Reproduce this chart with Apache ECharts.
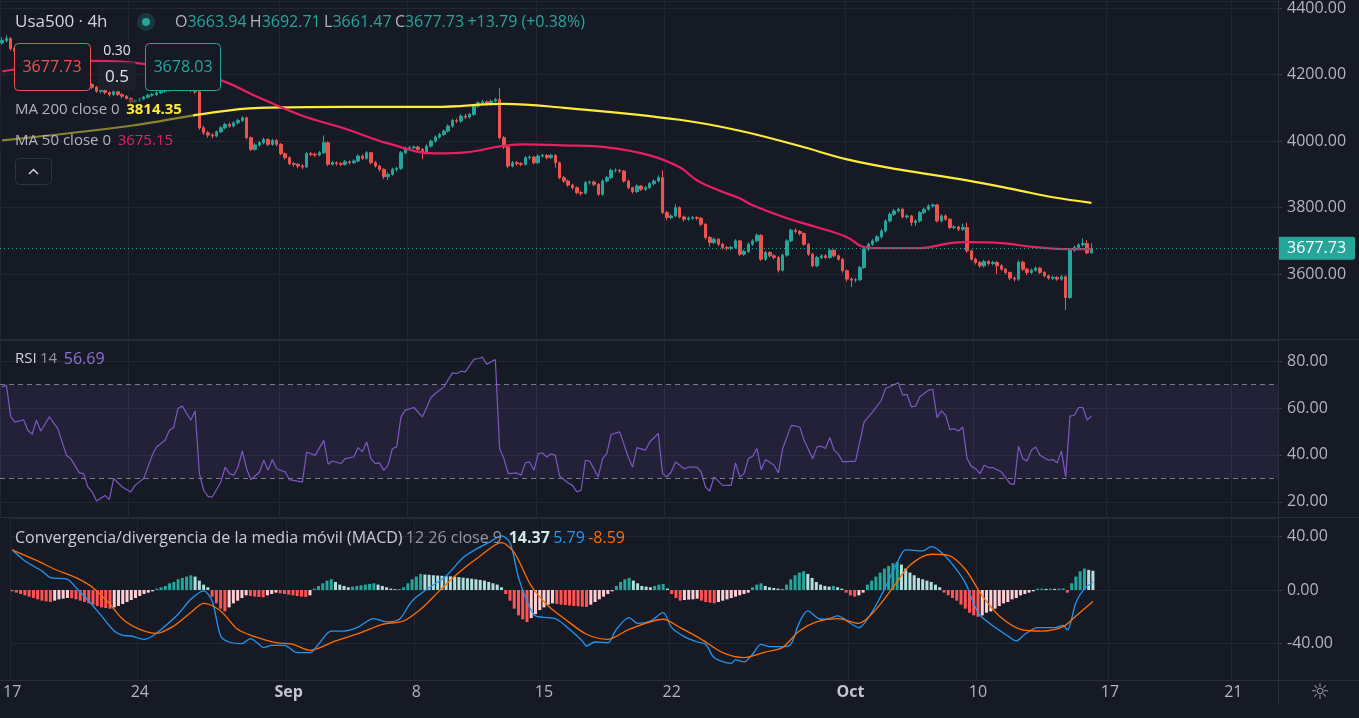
<!DOCTYPE html>
<html><head><meta charset="utf-8">
<script src="https://cdn.jsdelivr.net/npm/echarts@6/dist/echarts.min.js"></script>
<style>html,body{margin:0;padding:0;background:#161a25;overflow:hidden}#c{width:1359px;height:718px}</style>
</head><body><div id="c"></div>
<script>
// ---------- DATA ----------
// candles: [open, close, low, high], one per 4h bar
const candles = [
[4295,4302,4290,4312],[4302,4308,4296,4318],[4308,4278,4272,4312],[4278,4270,4262,4283],[4270,4265,4258,4275],
[4265,4268,4259,4274],[4268,4255,4250,4272],[4255,4250,4243,4260],[4250,4262,4246,4267],[4262,4252,4247,4266],
[4252,4258,4248,4263],[4258,4266,4254,4272],[4266,4258,4253,4270],[4258,4252,4246,4262],[4252,4232,4227,4256],
[4232,4215,4210,4236],[4215,4212,4205,4220],[4212,4198,4192,4216],[4198,4185,4180,4202],[4185,4184,4178,4190],
[4184,4170,4165,4188],[4170,4162,4156,4174],[4162,4150,4145,4166],[4150,4152,4144,4157],[4152,4146,4140,4156],
[4146,4140,4134,4150],[4140,4148,4136,4152],[4148,4140,4135,4151],[4140,4135,4128,4144],[4135,4128,4122,4138],
[4128,4118,4112,4131],[4118,4122,4114,4126],[4122,4125,4117,4130],[4125,4132,4121,4136],[4132,4138,4128,4142],
[4138,4140,4133,4145],[4140,4145,4136,4150],[4145,4150,4141,4155],[4150,4152,4145,4157],[4152,4158,4148,4163],
[4158,4160,4153,4165],[4160,4165,4156,4170],[4165,4168,4160,4173],[4168,4160,4155,4171],[4160,4152,4147,4164],
[4152,4148,4142,4158],[4148,4040,4034,4160],[4040,4025,4018,4046],[4025,4018,4010,4030],[4018,4015,4008,4024],
[4015,4028,4011,4032],[4028,4040,4024,4045],[4040,4050,4035,4055],[4050,4045,4040,4056],[4045,4055,4041,4060],
[4055,4062,4050,4067],[4062,4070,4057,4075],[4070,4010,4005,4073],[4010,3975,3970,4014],[3975,3988,3971,3993],
[3988,3995,3983,4000],[3995,4005,3990,4010],[4005,3990,3985,4008],[3990,4002,3986,4007],[4002,3990,3984,4006],
[3990,3962,3957,3994],[3962,3950,3944,3966],[3950,3932,3927,3954],[3932,3930,3922,3937],[3930,3925,3918,3934],
[3925,3922,3915,3930],[3922,3962,3918,3967],[3962,3960,3954,3967],[3960,3958,3952,3965],[3958,3965,3954,3970],
[3965,3995,3961,4017],[3995,3930,3925,3999],[3930,3935,3926,3940],[3935,3932,3926,3939],[3932,3930,3924,3937],
[3930,3938,3926,3943],[3938,3935,3930,3942],[3935,3940,3931,3945],[3940,3955,3936,3960],[3955,3948,3943,3960],
[3948,3965,3944,3970],[3965,3935,3930,3968],[3935,3925,3920,3940],[3925,3915,3908,3929],[3915,3893,3886,3918],
[3893,3900,3883,3906],[3900,3915,3896,3920],[3915,3918,3908,3923],[3918,3965,3913,3970],[3965,3978,3960,3983],
[3978,3980,3972,3986],[3980,3982,3975,3987],[3982,3975,3968,3986],[3975,3965,3945,3979],[3965,3985,3960,3990],
[3985,4000,3980,4005],[4000,4012,3995,4017],[4012,4020,4007,4025],[4020,4030,4015,4035],[4030,4045,4025,4050],
[4045,4062,4040,4067],[4062,4060,4054,4068],[4060,4075,4055,4080],[4075,4072,4066,4082],[4072,4080,4067,4085],
[4080,4105,4076,4110],[4105,4115,4100,4120],[4115,4118,4110,4124],[4118,4110,4105,4122],[4110,4120,4106,4125],
[4120,4125,4116,4130],[4125,4010,4005,4160],[4010,3982,3976,4015],[3982,3925,3918,3986],[3925,3935,3921,3940],
[3935,3932,3926,3940],[3932,3930,3924,3937],[3930,3950,3926,3955],[3950,3952,3944,3957],[3952,3935,3930,3956],
[3935,3955,3931,3960],[3955,3957,3950,3962],[3957,3950,3945,3961],[3950,3957,3946,3962],[3957,3935,3920,3960],
[3935,3890,3885,3938],[3890,3880,3874,3895],[3880,3868,3862,3884],[3868,3860,3854,3872],[3860,3845,3840,3864],
[3845,3843,3836,3850],[3843,3875,3839,3880],[3875,3877,3869,3882],[3877,3870,3864,3881],[3870,3840,3835,3874],
[3840,3880,3836,3885],[3880,3890,3875,3895],[3890,3912,3886,3917],[3912,3912,3906,3918],[3912,3910,3904,3916],
[3910,3880,3875,3913],[3880,3860,3855,3884],[3860,3848,3842,3863],[3848,3865,3844,3870],[3865,3855,3850,3868],
[3855,3860,3850,3865],[3860,3872,3856,3877],[3872,3880,3867,3885],[3880,3890,3875,3897],[3890,3785,3780,3912],
[3785,3770,3762,3790],[3770,3775,3765,3780],[3775,3800,3771,3810],[3800,3772,3767,3804],[3772,3765,3758,3776],
[3765,3768,3760,3773],[3768,3770,3763,3775],[3770,3768,3762,3774],[3768,3750,3744,3772],[3750,3710,3704,3753],
[3710,3695,3683,3714],[3695,3705,3690,3710],[3705,3690,3684,3708],[3690,3680,3673,3694],[3680,3678,3671,3685],
[3678,3680,3672,3685],[3680,3700,3676,3705],[3700,3660,3655,3703],[3660,3668,3655,3673],[3668,3690,3663,3695],
[3690,3700,3685,3705],[3700,3717,3696,3722],[3717,3645,3640,3720],[3645,3665,3640,3670],[3665,3655,3650,3669],
[3655,3650,3644,3660],[3650,3612,3605,3654],[3612,3657,3608,3662],[3657,3700,3652,3705],[3700,3732,3696,3737],
[3732,3728,3722,3738],[3728,3722,3716,3733],[3722,3690,3685,3725],[3690,3660,3655,3694],[3660,3625,3620,3664],
[3625,3650,3621,3655],[3650,3655,3645,3660],[3655,3650,3645,3660],[3650,3672,3646,3677],[3672,3655,3650,3676],
[3655,3645,3640,3659],[3645,3610,3604,3649],[3610,3585,3578,3614],[3585,3582,3561,3590],[3582,3583,3575,3589],
[3583,3620,3579,3625],[3620,3675,3616,3680],[3675,3690,3670,3695],[3690,3700,3685,3706],[3700,3712,3695,3718],
[3712,3730,3707,3736],[3730,3760,3725,3765],[3760,3780,3755,3786],[3780,3790,3775,3796],[3790,3795,3785,3800],
[3795,3772,3767,3798],[3772,3775,3766,3780],[3775,3755,3745,3778],[3755,3760,3745,3765],[3760,3785,3755,3790],
[3785,3795,3780,3800],[3795,3805,3790,3810],[3805,3808,3800,3813],[3808,3760,3755,3811],[3760,3775,3755,3780],
[3775,3765,3760,3780],[3765,3740,3735,3768],[3740,3742,3734,3747],[3742,3735,3729,3746],[3735,3740,3730,3752],
[3740,3670,3664,3755],[3670,3645,3640,3674],[3645,3635,3629,3650],[3635,3625,3619,3640],[3625,3638,3620,3643],
[3638,3632,3626,3642],[3632,3635,3627,3640],[3635,3625,3600,3640],[3625,3615,3610,3630],[3615,3605,3599,3618],
[3605,3588,3582,3608],[3588,3585,3578,3593],[3585,3636,3580,3642],[3636,3615,3609,3640],[3615,3605,3597,3619],
[3605,3612,3600,3617],[3612,3618,3607,3623],[3618,3605,3600,3622],[3605,3595,3590,3609],[3595,3588,3583,3599],
[3588,3590,3582,3595],[3590,3585,3580,3594],[3585,3592,3580,3597],[3592,3530,3492,3596],[3530,3672,3525,3677],
[3672,3680,3667,3686],[3680,3688,3675,3693],[3688,3692,3683,3708],[3692,3664,3659,3702],[3663.94,3677.73,3661.47,3692.71]
];
// moving averages: [barIndex, value]
const ma200 = [[0,4002],[30,4046],[47,4082],[60,4100],[80,4103],[101,4103],[117,4112],[131,4100],[158,4064],[172,4031],[186,3985],[197,3945],[209,3915],[225,3882],[237,3852],[245,3831],[254,3814.35]];
const ma50 = [[0,4209],[21,4241],[33,4232],[50,4187],[60,4130],[70,4076],[80,4037],[90,3993],[101,3963],[108,3966],[116,3984],[121,3990],[131,3987],[141,3981],[151,3957],[158,3921],[162,3882],[167,3852],[172,3828],[175,3807],[183,3768],[190,3741],[197,3711],[201,3681],[204,3678],[214,3678],[221,3693],[225,3696],[233,3693],[241,3681],[249,3675],[254,3675.15]];
// RSI 14: [barIndex, value]
const rsi = [[0,69],[1,69.7],[2,56.2],[3,54],[5,55],[6,50.5],[7,48.8],[8,54.8],[9,50.2],[11,56.2],[13,51.2],[15,39.8],[16,38.4],[18,32.3],[19,32],[20,26.3],[21,24.2],[22,20.3],[24,22.7],[25,20.9],[26,29.9],[28,26.3],[30,24.2],[31,27],[33,29.9],[35,39.8],[36,43.4],[38,46.2],[39,50.5],[40,51.7],[41,59.8],[42,60.8],[44,54.8],[45,58.8],[46,32],[47,24.9],[48,22.3],[49,22],[51,28.4],[52,34.8],[53,32],[54,31.3],[55,34.8],[56,41.7],[57,34.1],[58,29.4],[60,32.7],[61,37.7],[62,33.4],[63,38],[64,34.1],[66,32.7],[67,29.4],[68,29.1],[70,28.4],[71,41.2],[73,39.8],[75,46.2],[76,36],[77,37.4],[79,36.3],[80,38.4],[82,39.1],[83,43.1],[84,41.3],[85,45.5],[86,38.4],[87,36.3],[88,36.6],[89,33.4],[90,35.6],[91,42.7],[92,43.4],[93,56.2],[94,59.1],[96,60.2],[98,56.2],[100,64.5],[101,66.2],[103,69],[105,75],[106,74.7],[107,75.7],[108,75.4],[110,80.7],[111,81.1],[112,81.6],[113,78.7],[115,80.7],[116,42.7],[117,38.4],[118,32],[120,32.3],[121,31.3],[122,36.6],[123,37],[124,33.4],[125,40.5],[126,40.8],[127,39.1],[128,40.5],[129,39.8],[130,30.9],[132,28],[133,27],[134,24.2],[135,24.9],[136,37.7],[137,37.4],[139,30.6],[140,38.4],[141,40.5],[142,48.7],[144,49.8],[146,39.1],[147,34.8],[148,43.1],[150,42],[151,45.5],[153,49.1],[154,32],[155,30.6],[156,32.7],[157,37],[158,35.6],[159,34.1],[160,34.8],[162,34.8],[163,32.7],[164,26.3],[165,24.6],[166,30.6],[168,27],[170,27],[171,36.6],[172,30.6],[173,32],[174,38.4],[175,39.4],[176,42.7],[177,33.7],[178,38],[180,35.6],[181,32.3],[182,42.7],[184,52.6],[186,51.9],[187,46.2],[189,38.4],[190,43.4],[191,43.7],[192,42.7],[193,47.4],[194,42],[195,40.3],[196,37],[199,37.3],[201,54.1],[203,58.3],[205,63.3],[206,68.3],[208,70],[209,70.7],[210,65.5],[211,65.8],[212,60.5],[213,60.8],[214,64.8],[216,67.6],[217,67.9],[218,55.9],[219,58.8],[220,56.9],[221,50.8],[222,51.2],[223,50.2],[224,51.9],[225,38.4],[226,35.1],[227,34.1],[228,32],[229,35.6],[230,34.6],[231,34.6],[233,32.7],[234,30.3],[235,27.7],[236,27.4],[237,43.7],[238,38.4],[239,37.4],[240,42],[241,43.4],[242,39.8],[244,37.7],[245,38],[246,36.6],[247,41.7],[248,30.6],[249,56.5],[250,56.9],[251,60.2],[252,60.2],[253,54.8],[254,56.69]];
// MACD histogram, one per bar
const macdHist = [
-1,-2,-3,-4,-5,-6,-7,-8,-8.5,-9,
-8,-7,-6.5,-6,-6.2,
-7,-8,-9,-10,-11,-12,-13,-13.5,-14,
-13,-12,-10.5,-9,-7.5,-6,-4.5,-3,-2,-1,
1,2,3,5,6,8,9,10,11,
10,7,4,2,
-5,-10,-14,-16,
-13,-10,-8,-6,-4,
-4.5,-5,-5.2,-5.5,
-4,-3,-2,
-2.5,-3,-3.5,-4,-4.5,-5,-5.2,
-4,
1,3,5,7,8,
6,4,3,2,
2.5,3,3.5,4,4.5,5,
4,3,2,1,0.6,0.4,
2,5,8,10,12,
11.5,11.3,11,10.8,10.6,10.4,10.2,10,9.6,9.2,8.8,8.4,8,7.5,7,6,5,4,2,
-3,-8,-14,-19,-22,-24,
-21,-18,-15,-13,-11,-10,
-10.5,-11,-11.3,-11.6,-12,-12.2,-12.5,-12.7,
-11,-9,-7,-5,-3,-1,
3,6,8,9,
7,5,3,2.5,2,
3,4,4.5,
1,
-3,-6,-8,
-7.5,-7.2,-7,-6.5,
-8,-9,-9.5,-10,
-9,-8,-7,-6,-5,-4,-3,-2,
2,4,5,
3,2,1.5,1,0.5,
4,8,11,13,14,
12,9,6,4,3,2.5,3,2,1,
-2,-4,-5,-4,-2,
4,7,10,13,16,18,20,21,
19,16,13,11,9,8,7,6,4,2,
-2,-4,-6,-8,-11,-14,-17,-19,-20,
-19,-17,-16,-14,-12,-10,-9,-7,-6,-4,-3,-2,-1,
1,1,0.8,1,0.8,1,1.2,
-2,
5,10,14,16,
15,14.37
];
const macdLine = [[0,30],[3,21.7],[7,14.2],[9,9.2],[13,8],[15,1.7],[18,-8.2],[21,-19.4],[24,-30.7],[26,-33.9],[28,-34.4],[31,-36.9],[33,-34.4],[36,-26.9],[39,-18.2],[42,-7],[45,-0.7],[47,-8.2],[49,-34.4],[51,-38.9],[54,-40.1],[56,-36.4],[58,-40.6],[59,-43.1],[61,-41.4],[64,-41.4],[67,-46.9],[70,-46.9],[72,-40.6],[75,-30.7],[78,-30.7],[81,-28.2],[85,-21.4],[88,-23.9],[91,-21.9],[94,-8.2],[98,1.7],[102,10.5],[106,24.2],[109,30.4],[112,35.4],[115,40.4],[117,35.4],[119,9.2],[121,-8.2],[123,-19.4],[126,-20.7],[128,-21.9],[131,-29.4],[134,-38.1],[135,-41.9],[137,-38.9],[140,-39.4],[142,-29.4],[145,-20.7],[147,-24.9],[150,-23.2],[153,-16.9],[155,-28.2],[158,-34.9],[161,-38.9],[163,-40.6],[165,-50.6],[169,-54.8],[170,-52.3],[172,-53.8],[174,-48.1],[176,-40.6],[178,-42.4],[181,-42.4],[183,-40.6],[185,-24.4],[187,-15.7],[190,-21.9],[192,-21.4],[194,-19.4],[197,-24.9],[199,-28.2],[202,-16.9],[205,0.5],[208,20.4],[210,29.9],[214,29.2],[216,32.4],[218,29.2],[221,19.2],[224,5.5],[227,-16.9],[230,-25.7],[234,-34.4],[236,-38.1],[238,-33.1],[241,-28.2],[245,-28.2],[247,-26.4],[248,-29.9],[250,-9.5],[252,1],[254,5.79]];
const signalLine = [[0,30],[6,21.7],[10,15.5],[15,9.2],[19,1.7],[23,-10.7],[26,-21.9],[30,-29.4],[34,-32.4],[38,-26.9],[42,-16.9],[45,-10],[49,-15.7],[53,-29.4],[57,-34.9],[62,-39.4],[66,-40.6],[70,-45.1],[76,-38.1],[82,-31.9],[87,-25.7],[92,-23.2],[96,-14.5],[100,-2],[105,13],[110,25.4],[115,35.4],[118,27.9],[122,3],[126,-12],[130,-21.9],[135,-33.1],[140,-36.9],[145,-29.4],[153,-21.9],[157,-28.2],[162,-36.9],[167,-46.9],[172,-50.6],[177,-46.4],[181,-43.1],[185,-30.7],[189,-23.9],[194,-21.4],[199,-24.9],[203,-14.5],[207,1.7],[211,18.4],[216,26.7],[220,25.9],[224,15.5],[228,-4.5],[232,-19.4],[237,-29.4],[242,-30.7],[247,-27.4],[250,-19.4],[254,-8.59]];
// time axis ticks
const tickIndex = [0,30,65,95,125,155,197,227,258,287];
const tickText = ['17','24','Sep','8','15','22','Oct','10','17','21'];
const monthTicks = ['Sep','Oct'];
const slotCount = 298;
// legend texts
const ohlcText = ['3663.94','3692.71','3661.47','3677.73','+13.79 (+0.38%)'];
const ma200Text = '3814.35', ma50Text = '3675.15', rsiText = '56.69';
const macdText = ['14.37','5.79','-8.59'];
const sellText = '3677.73', buyText = '3678.03';

// ---------- CHART ----------
const BG = '#161a25', GRID = '#232733', TXT = '#b2b5be', UP = '#26a69a', DN = '#ef5350';
const FONT = '"Open Sans", "Noto Sans", sans-serif';
const cats = [];
for (let i = 0; i < slotCount; i++) cats.push(String(i));
const labelOf = {};
tickIndex.forEach((k, j) => { labelOf[k] = tickText[j]; });
const isTick = (idx) => labelOf[idx] !== undefined;
const lastClose = candles[candles.length - 1][1];

function xAx(gi, showLabel) {
  return {
    type: 'category', gridIndex: gi, data: cats, boundaryGap: true,
    axisLine: { show: false }, axisTick: { show: false, alignWithLabel: true, interval: isTick },
    axisLabel: {
      show: showLabel, interval: isTick, margin: 4, color: TXT, fontSize: 16, fontFamily: FONT,
      formatter: (v) => { const t = labelOf[+v]; if (t === undefined) return ''; return monthTicks.includes(t) ? '{b|' + t + '}' : t; },
      rich: { b: { fontWeight: 'bold', color: '#c3c6ce', fontSize: 16, fontFamily: FONT } }
    },
    splitLine: { show: true, interval: isTick, lineStyle: { color: GRID, width: 1 } }
  };
}
function yAx(gi, min, max, step) {
  return {
    type: 'value', gridIndex: gi, position: 'right', min: min, max: max, minInterval: step, maxInterval: step, scale: true,
    axisLine: { show: false }, axisTick: { show: true, length: 4, lineStyle: { color: '#3a3e4a' } },
    axisLabel: { color: TXT, fontSize: 16, fontFamily: FONT, margin: 9, showMinLabel: false, showMaxLabel: false,
      formatter: v => v.toFixed(2) },
    splitLine: { show: true, lineStyle: { color: GRID, width: 1 } }
  };
}

const chart = echarts.init(document.getElementById('c'), null, { renderer: 'canvas' });
const option = {
  backgroundColor: BG,
  animation: false,
  grid: [
    { left: 0, right: 81, top: 0, height: 339 },
    { left: 0, right: 81, top: 340, height: 177 },
    { left: 0, right: 81, top: 518, height: 162 }
  ],
  xAxis: [xAx(0, false), xAx(1, false), xAx(2, true)],
  yAxis: [yAx(0, 3405, 4421, 200), yAx(1, 13.5, 89, 20), yAx(2, -67.3, 53.8, 40)],
  series: [
    { type: 'candlestick', xAxisIndex: 0, yAxisIndex: 0, data: candles, barWidth: 3,
      itemStyle: { color: UP, color0: DN, borderColor: UP, borderColor0: DN, borderWidth: 1 },
      markLine: { symbol: 'none', silent: true, data: [{ yAxis: lastClose }],
        lineStyle: { color: UP, type: [1, 3], width: 1 },
        label: { position: 'end', distance: 0, formatter: () => lastClose.toFixed(2), backgroundColor: UP, color: '#ffffff',
          padding: [4, 9, 3, 9], borderRadius: 2, fontSize: 16, fontFamily: FONT } } },
    { type: 'line', xAxisIndex: 0, yAxisIndex: 0, data: ma200, smooth: 0.4, symbol: 'none',
      lineStyle: { color: '#ffeb3b', width: 2.2 }, z: 3 },
    { type: 'line', xAxisIndex: 0, yAxisIndex: 0, data: ma50, smooth: 0.4, symbol: 'none',
      lineStyle: { color: '#e91e63', width: 2.2 }, z: 3 },
    { type: 'line', xAxisIndex: 1, yAxisIndex: 1, data: rsi, symbol: 'none', lineStyle: { color: '#7e57c2', width: 1.2 },
      markArea: { silent: true, itemStyle: { color: 'rgba(126,87,194,0.12)' }, data: [[{ yAxis: 30 }, { yAxis: 70 }]] },
      markLine: { silent: true, symbol: 'none', label: { show: false },
        lineStyle: { color: '#787b86', type: [5, 4], width: 1 }, data: [{ yAxis: 70 }, { yAxis: 30 }] } },
    { type: 'bar', xAxisIndex: 2, yAxisIndex: 2, data: macdHist, barWidth: 3,
      itemStyle: { color: (p) => { const i = p.dataIndex, v = macdHist[i], pr = i > 0 ? macdHist[i - 1] : 0;
        if (v >= 0) return v >= pr ? '#26a69a' : '#b2dfdb'; return v <= pr ? '#ff5252' : '#ffcdd2'; } } },
    { type: 'line', xAxisIndex: 2, yAxisIndex: 2, data: macdLine, smooth: 0.3, symbol: 'none', lineStyle: { color: '#2196f3', width: 1.3 }, z: 4 },
    { type: 'line', xAxisIndex: 2, yAxisIndex: 2, data: signalLine, smooth: 0.3, symbol: 'none', lineStyle: { color: '#ff6d00', width: 1.3 }, z: 4 }
  ],
  graphic: [
    // pane separators & axis border
    { type: 'line', shape: { x1: 0, y1: 339.5, x2: 1359, y2: 339.5 }, style: { stroke: '#2a2e39', lineWidth: 1 }, z: 50 },
    { type: 'line', shape: { x1: 0, y1: 517.5, x2: 1359, y2: 517.5 }, style: { stroke: '#2a2e39', lineWidth: 1 }, z: 50 },
    { type: 'line', shape: { x1: 0, y1: 680.5, x2: 1359, y2: 680.5 }, style: { stroke: '#2a2e39', lineWidth: 1 }, z: 50 },
    { type: 'line', shape: { x1: 1278.5, y1: 0, x2: 1278.5, y2: 705 }, style: { stroke: '#2a2e39', lineWidth: 1 }, z: 50 },
    // legend dim area over MA rows
    { type: 'rect', shape: { x: 0, y: 99, width: 193, height: 54 }, style: { fill: 'rgba(22,26,37,0.5)' }, z: 55 },
    // header
    { type: 'text', x: 15, y: 22, z: 60, style: { text: 'Usa500 · 4h', fill: '#d1d4dc', font: '17px ' + FONT, verticalAlign: 'middle' } },
    { type: 'circle', shape: { cx: 146, cy: 22, r: 9 }, style: { fill: 'rgba(38,166,154,0.22)' }, z: 60 },
    { type: 'circle', shape: { cx: 146, cy: 22, r: 4 }, style: { fill: UP }, z: 61 },
    { type: 'text', x: 175, y: 22, z: 60, style: { verticalAlign: 'middle',
      text: '{g|O}{v|' + ohlcText[0] + '} {g|H}{v|' + ohlcText[1] + '} {g|L}{v|' + ohlcText[2] + '} {g|C}{v|' + ohlcText[3] + '} {v|' + ohlcText[4] + '}',
      rich: { g: { fill: '#b2b5be', font: '16px ' + FONT }, v: { fill: UP, font: '16px ' + FONT } } } },
    // sell / buy boxes
    { type: 'rect', shape: { x: 14.5, y: 43.5, width: 76, height: 47, r: 4 }, style: { fill: BG, stroke: DN, lineWidth: 1 }, z: 60 },
    { type: 'text', x: 52, y: 67, z: 61, style: { text: sellText, fill: DN, font: '16px ' + FONT, align: 'center', verticalAlign: 'middle' } },
    { type: 'rect', shape: { x: 145.5, y: 43.5, width: 75, height: 47, r: 4 }, style: { fill: BG, stroke: UP, lineWidth: 1 }, z: 60 },
    { type: 'text', x: 183, y: 67, z: 61, style: { text: buyText, fill: UP, font: '16px ' + FONT, align: 'center', verticalAlign: 'middle' } },
    { type: 'rect', shape: { x: 98, y: 62, width: 38, height: 28, r: 3 }, style: { fill: 'rgba(30,34,45,0.85)' }, z: 60 },
    { type: 'text', x: 117, y: 51, z: 61, style: { text: '0.30', fill: '#e0e3eb', font: '14px ' + FONT, align: 'center', verticalAlign: 'middle' } },
    { type: 'text', x: 117, y: 77, z: 61, style: { text: '0.5', fill: '#e0e3eb', font: '17px ' + FONT, align: 'center', verticalAlign: 'middle' } },
    // MA legends
    { type: 'text', x: 15, y: 110, z: 60, style: { verticalAlign: 'middle', text: '{g|MA 200 close 0}  {y|' + ma200Text + '}',
      rich: { g: { fill: '#b2b5be', font: '15px ' + FONT }, y: { fill: '#ffeb3b', font: 'bold 15px ' + FONT } } } },
    { type: 'text', x: 15, y: 141, z: 60, style: { verticalAlign: 'middle', text: '{g|MA 50 close 0}  {p|' + ma50Text + '}',
      rich: { g: { fill: '#b2b5be', font: '15px ' + FONT }, p: { fill: '#e91e63', font: '15px ' + FONT } } } },
    { type: 'rect', shape: { x: 15.5, y: 158.5, width: 36, height: 26, r: 4 }, style: { fill: BG, stroke: '#2f3340', lineWidth: 1 }, z: 60 },
    { type: 'polyline', shape: { points: [[29, 174], [33.5, 169.5], [38, 174]] }, style: { stroke: '#d1d4dc', lineWidth: 1.5, fill: null }, z: 61 },
    // RSI legend
    { type: 'text', x: 15, y: 359, z: 60, style: { verticalAlign: 'middle', text: '{w|RSI} {g|14}  {p|' + rsiText + '}',
      rich: { w: { fill: '#d1d4dc', font: '15px ' + FONT }, g: { fill: '#9598a1', font: '15px ' + FONT }, p: { fill: '#8e6fd6', font: '16px ' + FONT } } } },
    // MACD legend
    { type: 'text', x: 15, y: 538, z: 60, style: { verticalAlign: 'middle', text: '{w|Convergencia/divergencia de la media móvil (MACD)} {g|12 26 close 9}  {h|' + macdText[0] + '} {b|' + macdText[1] + '} {o|' + macdText[2] + '}',
      rich: { w: { fill: '#c9ccd4', font: '16px ' + FONT }, g: { fill: '#9598a1', font: '16px ' + FONT },
        h: { fill: '#d1e8e6', font: 'bold 16px ' + FONT }, b: { fill: '#2196f3', font: '16px ' + FONT }, o: { fill: '#ff6d00', font: '16px ' + FONT } } } },
    // settings icon
    { type: 'text', x: 1320, y: 693, z: 60, style: { text: '☼', fill: '#9598a1', font: '22px "DejaVu Sans"', align: 'center', verticalAlign: 'middle' } }
  ]
};
chart.setOption(option);
</script>
</body></html>
